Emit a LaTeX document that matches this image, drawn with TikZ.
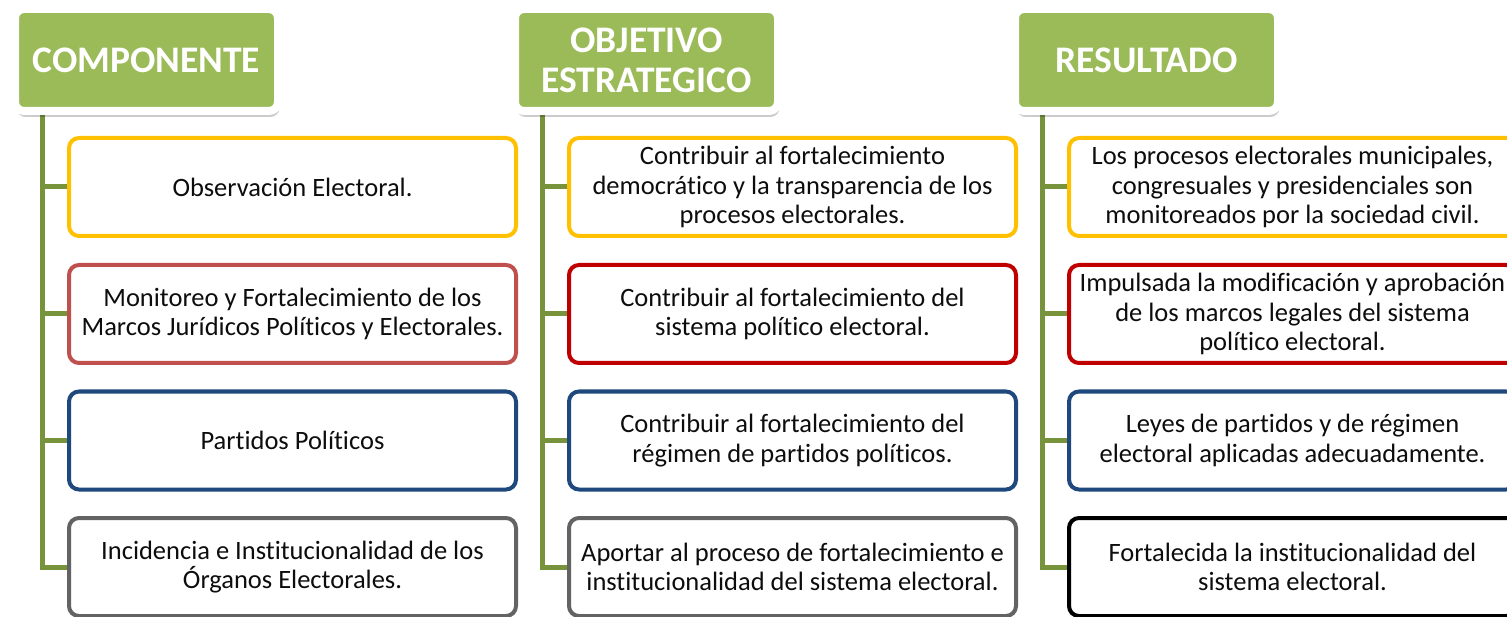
\documentclass[tikz,border=0pt]{standalone}
\usepackage{fontspec}
\setmainfont{Carlito}[Ligatures=NoCommon]
\usetikzlibrary{shadows,backgrounds}
\definecolor{hgreen}{RGB}{155,187,89}
\definecolor{trunkc}{RGB}{119,147,60}
\definecolor{cyel}{RGB}{255,192,0}
\definecolor{cred}{RGB}{192,80,77}
\definecolor{cdred}{RGB}{192,0,0}
\definecolor{cblue}{RGB}{31,73,125}
\definecolor{cgray}{RGB}{99,99,99}
\definecolor{ctext}{RGB}{13,13,13}
\begin{document}
\begin{tikzpicture}[x=1pt,y=-1pt,
  head/.style={fill=hgreen, draw=white, line width=8pt, rounded corners=9pt,
    minimum width=263pt, minimum height=102pt, inner sep=0pt, text=white,
    font=\fontsize{37.5}{40}\selectfont\bfseries, align=center,
    drop shadow={shadow xshift=1.5pt, shadow yshift=-6pt, opacity=0.2, fill=black}},
  box/.style={fill=white, line width=4pt, rounded corners=10pt,
    minimum width=447pt, minimum height=98pt, inner sep=0pt, align=center,
    text=ctext, font=\fontsize{26.5}{29.8}\selectfont},
  conn/.style={draw=trunkc, line width=5pt}]
\useasboundingbox (0,0) rectangle (1507,617);
\clip (0,0) rectangle (1507,617);

% headers
\node[head] (h1) at (146.5,60) {COMPONENTE};
\node[head] (h2) at (646.5,60) {OBJETIVO\\ESTRATEGICO};
\node[head] (h3) at (1146.5,60) {RESULTADO};

% column 1
\node[box, draw=cyel]  (a1) at (292.5,187)   {Observación Electoral.};
\node[box, draw=cred]  (a2) at (292.5,314)   {Monitoreo y Fortalecimiento de los\\Marcos Jurídicos Políticos y Electorales.};
\node[box, draw=cblue] (a3) at (292.5,440.5) {Partidos Políticos};
\node[box, draw=cgray] (a4) at (292.5,567)   {Incidencia e Institucionalidad de los\\Órganos Electorales.};

% column 2
\node[box, draw=cyel]  (b1) at (792.5,187)   {Contribuir al fortalecimiento\\democrático y la transparencia de los\\procesos electorales.};
\node[box, draw=cdred] (b2) at (792.5,314)   {Contribuir al fortalecimiento del\\sistema político electoral.};
\node[box, draw=cblue] (b3) at (792.5,440.5) {Contribuir al fortalecimiento del\\régimen de partidos políticos.};
\node[box, draw=cgray] (b4) at (792.5,567)   {Aportar al proceso de fortalecimiento e\\institucionalidad del sistema electoral.};

% column 3
\node[box, draw=cyel]  (c1) at (1292.5,187)   {Los procesos electorales municipales,\\congresuales y presidenciales son\\monitoreados por la sociedad civil.};
\node[box, draw=cdred] (c2) at (1292.5,314)   {Impulsada la modificación y aprobación\\de los marcos legales del sistema\\político electoral.};
\node[box, draw=cblue] (c3) at (1292.5,440.5) {Leyes de partidos y de régimen\\electoral aplicadas adecuadamente.};
\node[box, draw=black] (c4) at (1292.5,567)   {Fortalecida la institucionalidad del\\sistema electoral.};

\coordinate (t1) at (42,0);
\coordinate (t2) at (542,0);
\coordinate (t3) at (1042,0);

\begin{scope}[on background layer]
  \draw[conn] (h1.south -| t1) |- (a4.west);
  \draw[conn] (t1 |- a1.west) -- (a1.west);
  \draw[conn] (t1 |- a2.west) -- (a2.west);
  \draw[conn] (t1 |- a3.west) -- (a3.west);
  \draw[conn] (h2.south -| t2) |- (b4.west);
  \draw[conn] (t2 |- b1.west) -- (b1.west);
  \draw[conn] (t2 |- b2.west) -- (b2.west);
  \draw[conn] (t2 |- b3.west) -- (b3.west);
  \draw[conn] (h3.south -| t3) |- (c4.west);
  \draw[conn] (t3 |- c1.west) -- (c1.west);
  \draw[conn] (t3 |- c2.west) -- (c2.west);
  \draw[conn] (t3 |- c3.west) -- (c3.west);
\end{scope}
\end{tikzpicture}
\end{document}
